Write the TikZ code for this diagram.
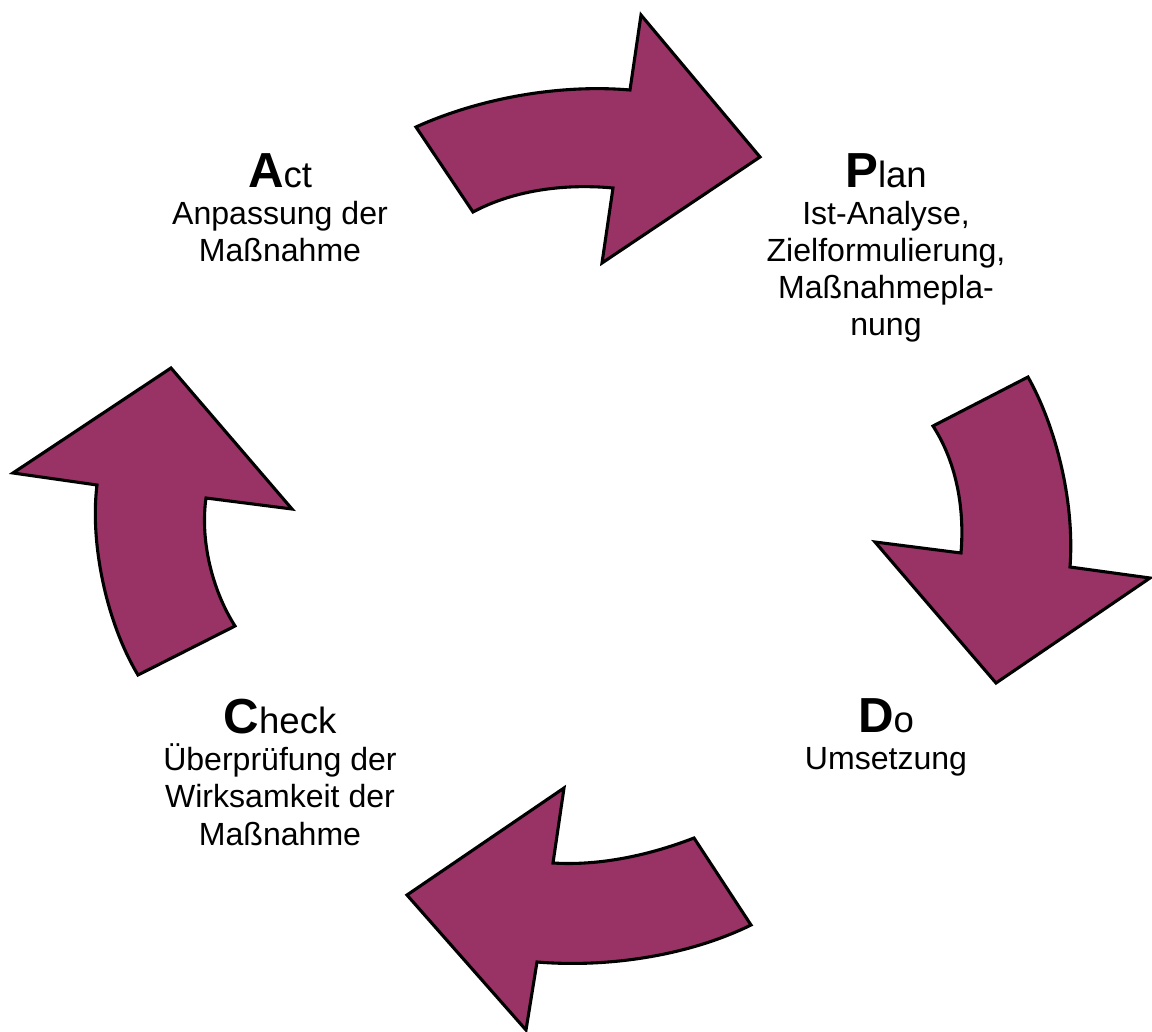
\documentclass[tikz,border=0pt]{standalone}
\usepackage{fontspec}
\setmainfont{Liberation Sans}
\usetikzlibrary{shapes}

\begin{document}
\begin{tikzpicture}[
    x=0.025cm, y=-0.025cm,
    text centered,
	pfeil/.style={
	  draw=black,
	  line width=2.2pt,
	  line join=miter,
	  fill=pdcapurple
	},
	phase/.style={
	  align=center,
	  anchor=north,
	  inner sep=0pt,
	  font=\fontsize{22.8}{26.4}\selectfont
	}
	]
	\definecolor{pdcapurple}{HTML}{993366}
	\useasboundingbox (0, 0) rectangle (1152, 1032);
	\path[pfeil] (416, 127) .. controls (480, 98) and (560, 84) .. (630, 90) -- (641, 15) -- (760, 157) -- (602, 263) -- (613, 188) .. controls (560, 183) and (510, 192) .. (473, 212) -- cycle;
	\path[pfeil] (1028, 377) .. controls (1055, 425) and (1075, 500) .. (1070, 567) -- (1150, 578) -- (996, 683) -- (875, 542) -- (961, 553) .. controls (965, 505) and (955, 460) .. (933, 426) -- cycle;
	\path[pfeil] (694, 838) .. controls (650, 855) and (600, 866) .. (553, 863) -- (564, 788) -- (407, 895) -- (526, 1030) -- (537, 962) .. controls (610, 968) and (690, 955) .. (751, 925) -- cycle;
	\path[pfeil] (171, 368) -- (292, 509) -- (206, 498) .. controls (200, 540) and (212, 590) .. (235, 626) -- (138, 675) .. controls (105, 620) and (90, 540) .. (97, 485) -- (13, 473) -- cycle;
	\node at (280, 153) [phase] (act) {{\fontsize{35}{35}\selectfont\bfseries A}{\fontsize{26}{26}\selectfont ct}\\Anpassung der\\Maßnahme};
	\node at (886, 153) [phase] (plan) {{\fontsize{35}{35}\selectfont\bfseries P}{\fontsize{26}{26}\selectfont lan}\\Ist-Analyse,\\Zielformulierung,\\Maßnahmepla-\\nung};
	\node at (280, 699) [phase] (check) {{\fontsize{35}{35}\selectfont\bfseries C}{\fontsize{26}{26}\selectfont heck}\\Überprüfung der\\Wirksamkeit der\\Maßnahme};
	\node at (886, 698) [phase] (do) {{\fontsize{35}{35}\selectfont\bfseries D}{\fontsize{26}{26}\selectfont o}\\Umsetzung};
  \end{tikzpicture}
\end{document}
